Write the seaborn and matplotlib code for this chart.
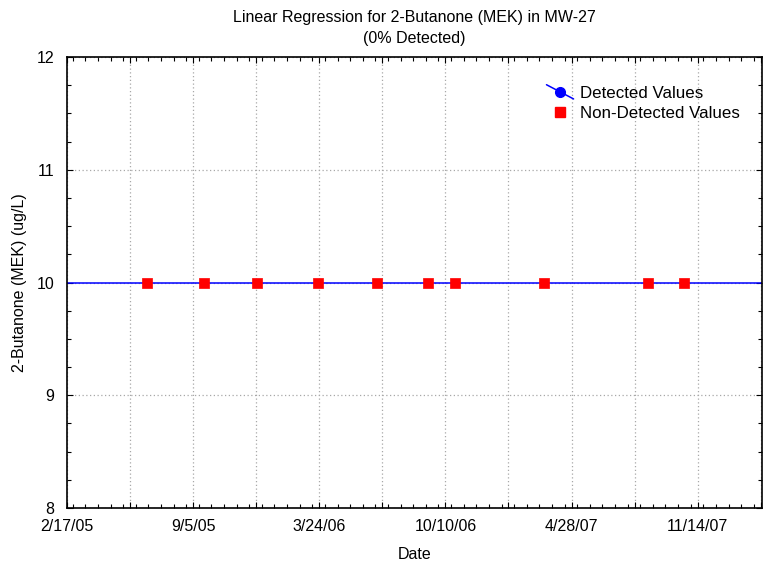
import numpy as np
import pandas as pd
import seaborn as sns
import matplotlib
matplotlib.use("Agg")
import matplotlib.pyplot as plt
import matplotlib.dates as mdates
from matplotlib.lines import Line2D
from matplotlib.legend_handler import HandlerLine2D
from matplotlib.ticker import MultipleLocator, FuncFormatter

# --- data ---
sample_dates = ["2005-06-24", "2005-09-22", "2005-12-15", "2006-03-22", "2006-06-23",
                "2006-09-12", "2006-10-26", "2007-03-15", "2007-08-28", "2007-10-23"]
nd_values = [10, 10, 10, 10, 10, 10, 10, 10, 10, 10]   # non-detects (reporting limit)
det_dates = []                                          # no detected values
det_values = []

x_start = pd.Timestamp("2005-02-17")
x_end = pd.Timestamp("2008-02-24")

df = pd.DataFrame({"Date": pd.to_datetime(sample_dates), "Value": nd_values})
df["num"] = mdates.date2num(df["Date"])

# regression on all values (flat, since everything is non-detect)
slope, icept = np.polyfit(df["num"], df["Value"], 1)
fit = pd.DataFrame({"num": mdates.date2num([x_start, x_end])})
fit["Value"] = icept + slope * fit["num"]

sns.set_style("ticks")
plt.rcParams["font.family"] = ["Liberation Sans", "DejaVu Sans"]
plt.rcParams["text.color"] = "black"
plt.rcParams["axes.labelcolor"] = "black"

fig = plt.figure(figsize=(7.67, 5.67), dpi=100)
ax = fig.add_axes([0.0874, 0.104, 0.906, 0.7955])

sns.lineplot(data=fit, x="num", y="Value", color="#0000ff", lw=1.1, ax=ax, zorder=2)
sns.scatterplot(data=df, x="num", y="Value", marker="s", s=55, color="#ff0000",
                edgecolor="#ff0000", linewidth=0.5, ax=ax, zorder=3)

ax.set_xlim(mdates.date2num(x_start), mdates.date2num(x_end))
ax.set_ylim(8, 12)

# ticks every 100 days, label every 200
t0 = mdates.date2num(x_start)
ax.xaxis.set_minor_locator(MultipleLocator(20))
ax.set_xticks(np.arange(t0, t0 + 1101, 100))

def fmt(v, pos):
    k = int(round((v - t0) / 100))
    if k % 2:
        return ""
    d = mdates.num2date(v)
    return f"{d.month}/{d.day}/{d.strftime('%y')}"

ax.xaxis.set_major_formatter(FuncFormatter(fmt))
ax.yaxis.set_major_locator(MultipleLocator(1))
ax.yaxis.set_minor_locator(MultipleLocator(0.25))

ax.tick_params(which="both", direction="in", top=True, right=True, labelsize=11.5,
               colors="black")
ax.tick_params(which="major", length=4, width=0.8)
ax.tick_params(axis="x", which="major", pad=8)
ax.tick_params(axis="y", which="major", pad=9)
ax.tick_params(which="minor", length=3, width=0.8)
ax.grid(True, which="major", color="#a8a8a8", ls=(0, (1, 2)), lw=0.9)
for s in ax.spines.values():
    s.set_color("black")
    s.set_linewidth(1.2)

ax.set_xlabel("Date", fontsize=11.5, labelpad=9)
ax.set_ylabel("2-Butanone (MEK) (ug/L)", fontsize=11.5, labelpad=7)
ax.set_title("Linear Regression for 2-Butanone (MEK) in MW-27\n(0% Detected)",
             fontsize=11.5, pad=10, linespacing=1.5)


class DiagHandler(HandlerLine2D):
    def create_artists(self, legend, orig_handle, xdescent, ydescent, width, height, fontsize, trans):
        x0, x1 = -xdescent, width - xdescent
        y0, y1 = height * 1.1 - ydescent, -height * 0.1 - ydescent
        ln = Line2D([x0, x1], [y0, y1], color="#0000ff", lw=1.1)
        mk = Line2D([(x0 + x1) / 2], [(y0 + y1) / 2], marker="o", ms=7,
                    color="#0000ff", ls="none")
        ln.set_transform(trans)
        mk.set_transform(trans)
        return [ln, mk]


h_det = Line2D([], [], color="#0000ff", marker="o")
h_nd = Line2D([], [], color="#ff0000", marker="s", ls="none", ms=7)
ax.legend([h_det, h_nd], ["Detected Values", "Non-Detected Values"],
          handler_map={h_det: DiagHandler()}, loc="upper left",
          bbox_to_anchor=(0.668, 0.97), frameon=False, fontsize=12.2,
          handlelength=1.6, handletextpad=0.4, labelspacing=0.3)

fig.savefig("out.png", dpi=100)
